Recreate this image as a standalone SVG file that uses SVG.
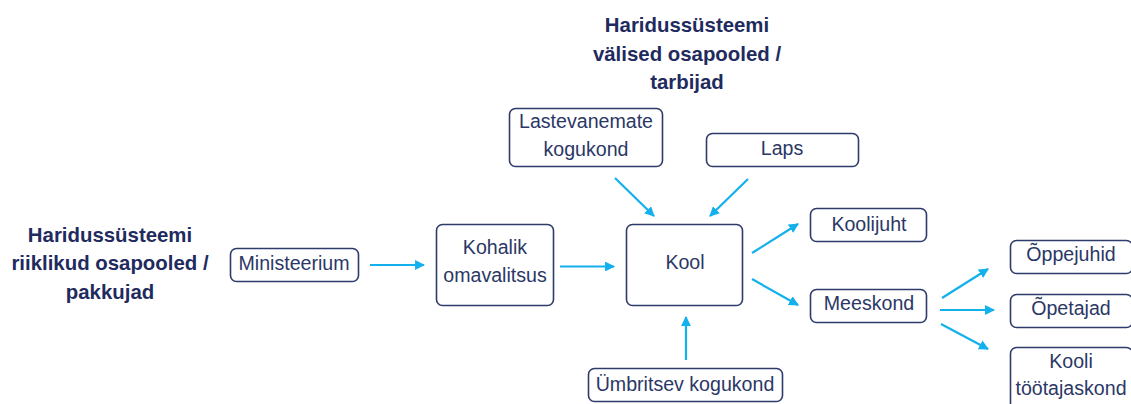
<svg xmlns="http://www.w3.org/2000/svg" width="1131" height="404" viewBox="0 0 1131 404">
<defs>
<style>
.box{fill:#ffffff;stroke:#2f3b6b;stroke-width:1.6}
.t{font-family:"Liberation Sans",Arial,sans-serif;font-size:19.6px;fill:#2b3766;text-anchor:middle;dominant-baseline:central}
.h{font-family:"Liberation Sans",Arial,sans-serif;font-size:20.4px;font-weight:bold;fill:#1f2b5e;text-anchor:middle;dominant-baseline:central}
.c{stroke:#12b0ec;stroke-width:2.2;fill:none;marker-end:url(#ah)}
</style>
<marker id="ah" viewBox="0 0 10 10" refX="9" refY="5" markerWidth="4.5" markerHeight="4.5" orient="auto" markerUnits="strokeWidth">
<path d="M0,0 L10,5 L0,10 z" fill="#12b0ec"/>
</marker>
</defs>
<rect width="1131" height="404" fill="#ffffff"/>
<g id="title-top">
<text class="h" x="687" y="25">Haridussüsteemi</text>
<text class="h" x="687" y="54">välised osapooled /</text>
<text class="h" x="687" y="82">tarbijad</text>
</g>
<g id="title-left">
<text class="h" x="110" y="235">Haridussüsteemi</text>
<text class="h" x="110" y="263">riiklikud osapooled /</text>
<text class="h" x="110" y="292">pakkujad</text>
</g>
<g id="n-lastevanemate">
<rect class="box" x="509.5" y="108.5" width="153" height="58" rx="6"/>
<text class="t" x="586" y="121">Lastevanemate</text>
<text class="t" x="586" y="149">kogukond</text>
</g>
<g id="n-laps">
<rect class="box" x="706.5" y="133.5" width="152" height="33" rx="6"/>
<text class="t" x="782" y="148">Laps</text>
</g>
<g id="n-ministeerium">
<rect class="box" x="230.5" y="248.5" width="128" height="33" rx="6"/>
<text class="t" x="294" y="263">Ministeerium</text>
</g>
<g id="n-kohalik">
<rect class="box" x="436.5" y="224.5" width="117" height="81" rx="6"/>
<text class="t" x="495" y="247">Kohalik</text>
<text class="t" x="495" y="275">omavalitsus</text>
</g>
<g id="n-kool">
<rect class="box" x="626.5" y="224.5" width="116" height="81" rx="6"/>
<text class="t" x="685" y="262">Kool</text>
</g>
<g id="n-koolijuht">
<rect class="box" x="810.5" y="208.5" width="116" height="33" rx="6"/>
<text class="t" x="869" y="224">Koolijuht</text>
</g>
<g id="n-meeskond">
<rect class="box" x="810.5" y="289.5" width="116" height="33" rx="6"/>
<text class="t" x="869" y="303">Meeskond</text>
</g>
<g id="n-oppejuhid">
<rect class="box" x="1010.5" y="240.5" width="122" height="33" rx="6"/>
<text class="t" x="1071" y="254">Õppejuhid</text>
</g>
<g id="n-opetajad">
<rect class="box" x="1010.5" y="294.5" width="122" height="33" rx="6"/>
<text class="t" x="1071" y="308">Õpetajad</text>
</g>
<g id="n-kooli">
<rect class="box" x="1010.5" y="347.5" width="122" height="70" rx="6"/>
<text class="t" x="1071" y="361">Kooli</text>
<text class="t" x="1071" y="388">töötajaskond</text>
</g>
<g id="n-umbritsev">
<rect class="box" x="588.5" y="368.5" width="194" height="33" rx="6"/>
<text class="t" x="685" y="384">Ümbritsev kogukond</text>
</g>
<g id="connectors">
<line class="c" x1="370" y1="265" x2="424" y2="265"/>
<line class="c" x1="560" y1="266.5" x2="614" y2="266.5"/>
<line class="c" x1="615" y1="178" x2="654" y2="216"/>
<line class="c" x1="748" y1="179" x2="710" y2="216"/>
<line class="c" x1="686" y1="360" x2="686" y2="317"/>
<line class="c" x1="752" y1="253" x2="798" y2="224"/>
<line class="c" x1="752" y1="279" x2="798" y2="305"/>
<line class="c" x1="942" y1="298" x2="988" y2="269"/>
<line class="c" x1="940" y1="310" x2="994" y2="310"/>
<line class="c" x1="941" y1="324" x2="988" y2="349"/>
</g>
</svg>
